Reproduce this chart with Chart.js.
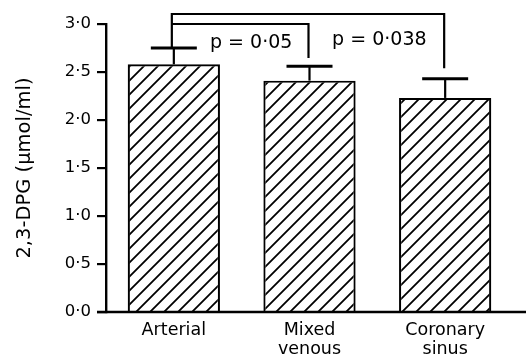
<!DOCTYPE html>
<html>
<head>
<meta charset="utf-8">
<script src="https://cdn.jsdelivr.net/npm/chart.js@4/dist/chart.umd.min.js"></script>
<style>
html,body{margin:0;padding:0;background:#fff;}
#wrap{width:532px;height:357px;}
</style>
</head>
<body>
<div id="wrap"><canvas id="c" width="532" height="357"></canvas></div>
<script>
const categories = [["Arterial"], ["Mixed", "venous"], ["Coronary", "sinus"]];
const means = [2.58, 2.41, 2.23];
const errors = [0.17, 0.15, 0.20];
const yTicks = [0, 0.5, 1.0, 1.5, 2.0, 2.5, 3.0];
const comparisons = [
  {from: 0, to: 1, label: "p = 0·05"},
  {from: 0, to: 2, label: "p = 0·038"}
];

const ctx = document.getElementById('c').getContext('2d');
const hatch = ctx.createPattern((function(){
  const s = 14;
  const cv = document.createElement('canvas');
  cv.width = s; cv.height = s;
  const g = cv.getContext('2d');
  g.fillStyle = '#fff';
  g.fillRect(0, 0, s, s);
  g.strokeStyle = '#000';
  g.lineWidth = 1.8;
  g.beginPath();
  g.moveTo(-2, s + 2); g.lineTo(s + 2, -2);
  g.moveTo(-2, 2); g.lineTo(2, -2);
  g.moveTo(s - 2, s + 2); g.lineTo(s + 2, s - 2);
  g.stroke();
  return cv;
})(), 'repeat');

const FONT = "'DejaVu Sans', sans-serif";

const decor = {
  id: 'decor',
  afterDatasetsDraw(chart) {
    const c = chart.ctx;
    const x = chart.scales.x, y = chart.scales.y;
    c.save();
    c.strokeStyle = '#000';
    c.lineCap = 'butt';
    // baseline
    c.lineWidth = 2.4;
    c.beginPath();
    c.moveTo(97, y.getPixelForValue(0));
    c.lineTo(526, y.getPixelForValue(0));
    c.stroke();
    // error bars
    means.forEach((m, i) => {
      const cx = x.getPixelForValue(i);
      const y0 = y.getPixelForValue(m);
      const y1 = y.getPixelForValue(m + errors[i]);
      c.lineWidth = 2.2;
      c.beginPath();
      c.moveTo(cx, y0); c.lineTo(cx, y1);
      c.stroke();
      c.lineWidth = 3;
      c.beginPath();
      c.moveTo(cx - 23, y1); c.lineTo(cx + 23, y1);
      c.stroke();
    });
    // brackets
    const cx0 = x.getPixelForValue(0) - 2;
    const cx1 = x.getPixelForValue(1) - 1;
    const cx2 = x.getPixelForValue(2) - 1;
    const topOuter = y.getPixelForValue(3.104);
    const topInner = y.getPixelForValue(3.0);
    c.lineWidth = 2.2;
    c.beginPath();
    c.moveTo(cx0, y.getPixelForValue(means[0] + errors[0]));
    c.lineTo(cx0, topOuter);
    c.lineTo(cx2, topOuter);
    c.lineTo(cx2, y.getPixelForValue(2.54));
    c.moveTo(cx0, topInner);
    c.lineTo(cx1, topInner);
    c.lineTo(cx1, y.getPixelForValue(2.646));
    c.stroke();
    // p labels
    c.fillStyle = '#000';
    c.font = "19px " + FONT;
    c.textAlign = 'center';
    c.textBaseline = 'middle';
    c.fillText(comparisons[0].label, (cx0 + cx1) / 2 + 11, 43);
    c.fillText(comparisons[1].label, (cx1 + cx2) / 2 + 3, 40);
    c.restore();
  }
};

new Chart(ctx, {
  type: 'bar',
  data: {
    labels: categories,
    datasets: [{
      data: means,
      backgroundColor: hatch,
      borderColor: '#000',
      borderWidth: 2.2,
      borderSkipped: 'bottom',
      barPercentage: 0.68,
      categoryPercentage: 1.0
    }]
  },
  options: {
    responsive: false,
    animation: false,
    events: [],
    layout: {padding: {left: 0, right: 19, top: 24, bottom: 0}},
    plugins: {legend: {display: false}, tooltip: {enabled: false}},
    scales: {
      x: {
        grid: {display: false, drawTicks: false},
        border: {display: false},
        ticks: {
          color: '#000',
          font: {family: FONT, size: 17.5, lineHeight: 1.1},
          padding: 9,
          maxRotation: 0
        },
        afterFit(s) { s.height = 45; }
      },
      y: {
        min: 0, max: 3,
        afterBuildTicks(s) { s.ticks = yTicks.map(v => ({value: v})); },
        ticks: {
          color: '#000',
          font: {family: FONT, size: 16.5},
          padding: 6,
          callback: v => Number(v).toFixed(1).replace('.', '·')
        },
        grid: {drawOnChartArea: false, drawTicks: true, tickLength: 9, color: '#000', lineWidth: 2.2},
        border: {display: true, color: '#000', width: 2.4},
        title: {
          display: true,
          text: '2,3-DPG (μmol/ml)',
          color: '#000',
          font: {family: FONT, size: 19.5},
          padding: {top: 13, bottom: 0}
        },
        afterFit(s) { s.width = 106; }
      }
    }
  },
  plugins: [decor]
});
</script>
</body>
</html>
